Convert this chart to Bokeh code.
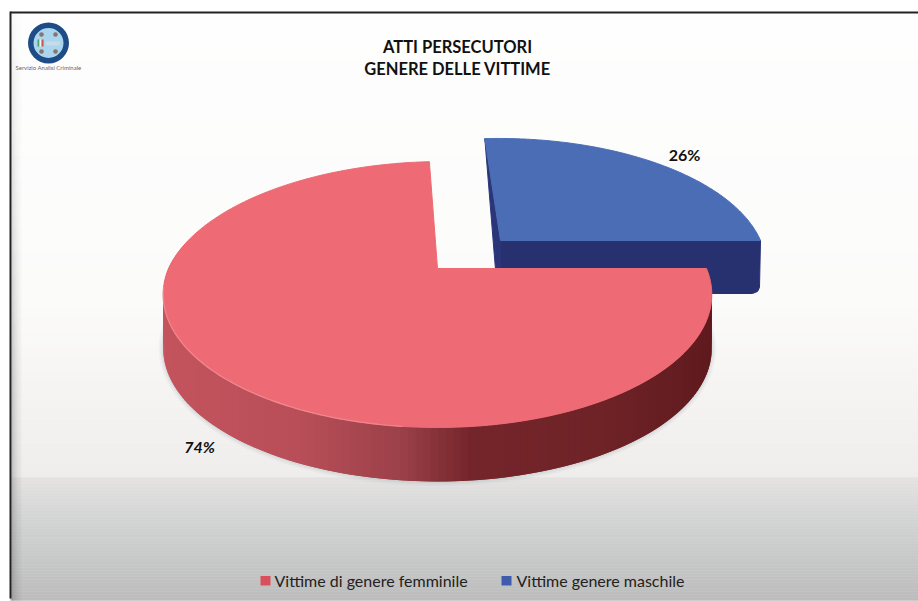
import numpy as np
from bokeh.embed import file_html
from bokeh.core.properties import value
from bokeh.plotting import figure
from bokeh.resources import INLINE

TITLE_LINES = ["ATTI PERSECUTORI", "GENERE DELLE VITTIME"]
CATEGORIES = ["Vittime di genere femminile", "Vittime genere maschile"]
SHARES = [74, 26]
LOGO_CAPTION = "Servizio Analisi Criminale"

W, H = 918, 601
FONT = value("Lato")
TILT = 0.1955          # perspective strength of the pie's receding half


def mix(stops, t):
    """Interpolate a hex colour along (position, colour) stops."""
    pos = [s[0] for s in stops]
    rgb = np.array([[int(s[1][i:i + 2], 16) for i in (1, 3, 5)] for s in stops], float)
    c = [np.interp(t, pos, rgb[:, j]) for j in range(3)]
    return "#%02x%02x%02x" % tuple(int(round(v)) for v in c)


def rim_point(deg, apex, rx, ry, shear=0.0):
    """Project an angle (clockwise from 12 o'clock) onto a slice's rim."""
    a = np.radians(deg)
    u, v = np.sin(a), np.cos(a)
    w = 1 + TILT * v
    return apex[0] + rx * u / w + shear * np.clip(v, 0, 1), apex[1] - ry * v / w


def arc(start, end, apex, rx, ry, shear=0.0, n=160):
    xs, ys = rim_point(np.linspace(start, end, n), apex, rx, ry, shear)
    return list(xs), list(ys)


p = figure(width=W, height=H, x_range=(0, W), y_range=(H, 0),
           x_axis_type=None, y_axis_type=None, toolbar_location=None,
           output_backend="svg", min_border=0, outline_line_color=None,
           background_fill_color="#ffffff", border_fill_color="#ffffff")
p.grid.visible = False

# Slide background: pale upper band, then a grey ramp with a visible step.
TOP, STEP, BOTTOM, LEFT = 12, 477, 598, 10
ys = np.arange(TOP, BOTTOM, 3.0)
bg = [mix([(TOP, "#fefefe"), (300, "#fbfbfa"), (STEP - 1, "#efedeb"), (STEP, "#e4e3e1"),
           (520, "#d2d3d3"), (BOTTOM, "#bcbcbc")], y + 1.5) for y in ys]
p.quad(left=LEFT, right=W, top=ys, bottom=ys + 3, fill_color=bg, line_color=bg, line_width=0.5)

# Soft fade along the left side, strengthening toward the bottom.
rows = np.arange(TOP, BOTTOM, 12.0)
for i, strength in enumerate([0.30, 0.20, 0.13, 0.08, 0.04]):
    alphas = [strength * min(1.0, 0.15 + (y - TOP) / 420) for y in rows]
    p.quad(left=LEFT + 1 + i * 2, right=LEFT + 3 + i * 2, top=rows, bottom=rows + 12,
           fill_color="#555555", fill_alpha=alphas, line_color=None)

# Dark frame edges.
p.quad(left=LEFT, right=W, top=TOP - 1, bottom=TOP + 1, fill_color="#222222", line_color=None)
p.quad(left=LEFT - 1, right=LEFT + 1, top=TOP - 1, bottom=BOTTOM, fill_color="#222222", line_color=None)

# Slice angles follow from the shares: the smaller slice ends at 3 o'clock.
blue_end = 90.0
blue_start = blue_end - 360 * SHARES[1] / sum(SHARES)
red_start = blue_end
red_end = red_start + 360 * SHARES[0] / sum(SHARES)

RED_APEX, RED_RX, RED_RY, RED_DEPTH, RED_SHEAR = (437, 268), 269, 127.9, 54, 6
BLUE_APEX, BLUE_RX, BLUE_RY, BLUE_DEPTH, BLUE_SHEAR = (500, 240), 260, 122, 53, -2

# Male slice: front cut wall and left cut wall, then the top face.
bx, by = arc(blue_start, blue_end, BLUE_APEX, BLUE_RX, BLUE_RY, BLUE_SHEAR)
ax0, ay0 = BLUE_APEX
right = ax0 + BLUE_RX
p.patch([ax0, right, right - 1, right - 3, right - 8, ax0],
        [ay0, ay0, ay0 + BLUE_DEPTH - 6, ay0 + BLUE_DEPTH - 2, ay0 + BLUE_DEPTH, ay0 + BLUE_DEPTH],
        fill_color="#27316f", line_color="#27316f")
p.patch([bx[0], ax0, ax0, ax0 - 5],
        [by[0], ay0, ay0 + BLUE_DEPTH, ay0 + 29],
        fill_color="#2a3678", line_color="#2a3678")
p.patch([ax0] + bx, [ay0] + by, fill_color="#4a6db5", line_color="#4a6db5")

# Female slice: soft contact shadow under the rim.
sx, sy = arc(red_start, 270, RED_APEX, RED_RX, RED_RY)
for width, alpha in [(9, 0.05), (6, 0.07), (3, 0.10)]:
    p.line(sx, [y + RED_DEPTH for y in sy], line_color="#7f8f94", line_width=width, line_alpha=alpha)

# Rim drawn as overlapping quads so its shade can run dark to the right.
rim_stops = [(160, "#c4545e"), (300, "#b84e58"), (400, "#9c4149"), (470, "#74252b"),
             (600, "#6f2327"), (715, "#5f1a1e")]
edges = np.linspace(red_start, 284, 150)
ex, ey = rim_point(edges, RED_APEX, RED_RX, RED_RY, RED_SHEAR)
rim_xs, rim_ys, rim_cols = [], [], []
for i in range(len(edges) - 2):
    rim_xs.append([ex[i], ex[i + 2], ex[i + 2], ex[i]])
    rim_ys.append([ey[i], ey[i + 2], ey[i + 2] + RED_DEPTH, ey[i] + RED_DEPTH])
    rim_cols.append(mix(rim_stops, (ex[i] + ex[i + 1]) / 2))
p.patches(rim_xs, rim_ys, fill_color=rim_cols, line_color=None)

# Top face and the pale highlight along its left front edge.
rx_, ry_ = arc(red_start, red_end, RED_APEX, RED_RX, RED_RY, RED_SHEAR, 300)
p.patch([RED_APEX[0]] + rx_, [RED_APEX[1]] + ry_, fill_color="#ee6a74", line_color="#ee6a74")
hx, hy = arc(186, 262, RED_APEX, RED_RX, RED_RY)
p.line(hx, hy, line_color="#f59a9f", line_width=1.4, line_alpha=0.6)

# Percentage labels.
p.text([684], [153.5], text=[f"{SHARES[1]}%"], text_font=FONT, text_font_style="bold",
       text_font_size="16px", text_color="#111111", text_align="center", text_baseline="middle")
p.text([199], [445.5], text=[f"{SHARES[0]}%"], text_font=FONT, text_font_style="bold italic",
       text_font_size="16px", text_color="#111111", text_align="center", text_baseline="middle")

# Title.
p.text([457, 457], [46, 68], text=TITLE_LINES, text_font=FONT, text_font_style="bold",
       text_font_size="16.5px", text_color="#111111", text_align="center", text_baseline="middle")

# Legend.
p.quad(left=[260, 501], right=[270, 511], top=[575.5, 575.5], bottom=[585, 585],
       fill_color=["#d9505c", "#3f5bb0"], line_color=None)
p.text([274, 516], [579.5, 579.5], text=CATEGORIES, text_font=FONT, text_font_size="16px",
       text_color="#222222", text_align="left", text_baseline="middle")

# Department badge in the top-left corner.
p.circle([48], [42.5], radius=20.5, fill_color="#1d4c86", line_color=None)
p.circle([48], [42.5], radius=15, fill_color="#a9d5ee", line_color=None)
p.circle([41, 55, 41, 55], [34, 34, 51, 51], radius=2.3, fill_color="#8a7468", line_color=None)
p.quad(left=[37, 39, 41], right=[39, 41, 43], top=[39, 39, 39], bottom=[46, 46, 46],
       fill_color=["#4aa56a", "#f4f4f4", "#d0554f"], line_color=None)
p.quad(left=[45], right=[59], top=[41], bottom=[45], fill_color="#c7dbe8", line_color=None)
p.text([48], [66.7], text=[LOGO_CAPTION], text_font=FONT, text_font_size="6px",
       text_color="#75605a", text_align="center", text_baseline="middle")

open("out.html", "w").write(file_html(p, INLINE))
